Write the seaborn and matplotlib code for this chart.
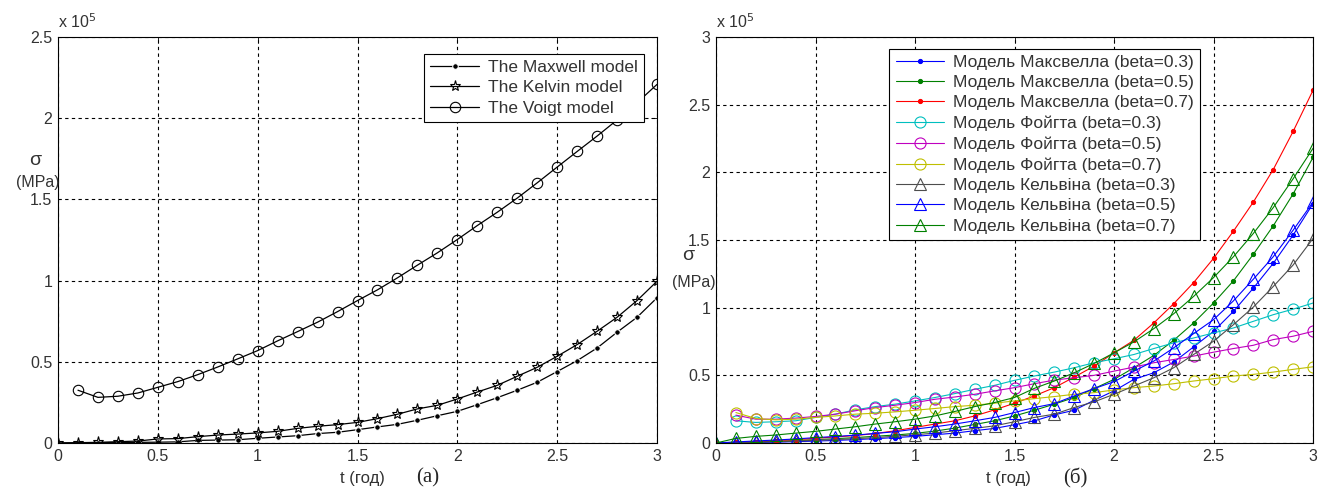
import numpy as np
import pandas as pd
import matplotlib
matplotlib.use("Agg")
import matplotlib.pyplot as plt
import seaborn as sns

# ---------------- data (stress in units of 1e5 MPa) ----------------
t = [round(0.1 * i, 1) for i in range(31)]
t_voigt = t[1:]

# panel (a)
maxwell_a = [0.0, 0.001, 0.002, 0.003, 0.004, 0.005, 0.007, 0.016, 0.018, 0.020, 0.029,
             0.037, 0.045, 0.058, 0.066, 0.082, 0.099, 0.115, 0.140, 0.168, 0.195,
             0.236, 0.279, 0.325, 0.374, 0.440, 0.507, 0.585, 0.682, 0.774, 0.894]
kelvin_a = [0.0, 0.002, 0.004, 0.008, 0.012, 0.025, 0.027, 0.039, 0.049, 0.055, 0.062,
            0.072, 0.090, 0.103, 0.113, 0.127, 0.150, 0.177, 0.210, 0.232, 0.271,
            0.314, 0.355, 0.411, 0.466, 0.534, 0.606, 0.688, 0.774, 0.877, 0.996]
voigt_a = [0.325, 0.281, 0.288, 0.308, 0.343, 0.378, 0.421, 0.468, 0.518, 0.569,
           0.629, 0.686, 0.744, 0.809, 0.877, 0.943, 1.017, 1.095, 1.171, 1.253,
           1.339, 1.421, 1.508, 1.602, 1.699, 1.795, 1.890, 1.989, 2.095, 2.208]

# panel (б)
maxwell_03 = [0.0, 0.002, 0.004, 0.006, 0.010, 0.014, 0.019, 0.025, 0.032, 0.040, 0.049,
              0.061, 0.073, 0.091, 0.108, 0.135, 0.164, 0.208, 0.242, 0.316, 0.385,
              0.470, 0.519, 0.598, 0.710, 0.825, 0.972, 1.144, 1.327, 1.536, 1.768]
maxwell_05 = [0.0, 0.004, 0.008, 0.012, 0.018, 0.025, 0.032, 0.040, 0.050, 0.059, 0.071,
              0.088, 0.110, 0.137, 0.164, 0.200, 0.242, 0.287, 0.336, 0.402, 0.470,
              0.556, 0.647, 0.759, 0.887, 1.034, 1.198, 1.394, 1.604, 1.840, 2.110]
maxwell_07 = [0.0, 0.005, 0.010, 0.018, 0.025, 0.035, 0.045, 0.055, 0.070, 0.090, 0.115,
              0.140, 0.164, 0.200, 0.245, 0.294, 0.348, 0.409, 0.487, 0.568, 0.666,
              0.759, 0.887, 1.029, 1.185, 1.364, 1.565, 1.780, 2.020, 2.302, 2.606]
voigt_03 = [0.164, 0.152, 0.157, 0.164, 0.189, 0.213, 0.245, 0.269, 0.287, 0.311,
            0.336, 0.365, 0.397, 0.426, 0.463, 0.495, 0.524, 0.556, 0.593, 0.622,
            0.654, 0.698, 0.740, 0.776, 0.813, 0.850, 0.899, 0.948, 0.989, 1.034]
voigt_05 = [0.206, 0.176, 0.176, 0.184, 0.196, 0.213, 0.238, 0.262, 0.279, 0.299,
            0.323, 0.340, 0.360, 0.385, 0.409, 0.438, 0.465, 0.482, 0.500, 0.531,
            0.561, 0.593, 0.617, 0.642, 0.671, 0.698, 0.722, 0.764, 0.789, 0.825]
voigt_07 = [0.225, 0.181, 0.171, 0.176, 0.189, 0.200, 0.213, 0.220, 0.230, 0.242,
            0.255, 0.269, 0.279, 0.294, 0.311, 0.328, 0.343, 0.360, 0.372, 0.392,
            0.409, 0.421, 0.438, 0.458, 0.475, 0.495, 0.507, 0.524, 0.544, 0.563]
kelvin_03 = [0.0, 0.003, 0.006, 0.010, 0.014, 0.020, 0.025, 0.032, 0.040, 0.050, 0.061,
             0.073, 0.091, 0.108, 0.127, 0.157, 0.189, 0.213, 0.262, 0.304, 0.360,
             0.421, 0.482, 0.556, 0.654, 0.752, 0.874, 1.004, 1.156, 1.315, 1.511]
kelvin_05 = [0.0, 0.008, 0.015, 0.022, 0.030, 0.040, 0.048, 0.058, 0.071, 0.083, 0.103,
             0.120, 0.140, 0.164, 0.189, 0.225, 0.262, 0.291, 0.348, 0.402, 0.453,
             0.531, 0.605, 0.703, 0.808, 0.911, 1.050, 1.210, 1.376, 1.572, 1.780]
kelvin_07 = [0.0, 0.034, 0.049, 0.059, 0.073, 0.086, 0.103, 0.120, 0.140, 0.157, 0.176,
             0.200, 0.233, 0.269, 0.299, 0.336, 0.404, 0.458, 0.519, 0.588, 0.666,
             0.747, 0.845, 0.955, 1.083, 1.222, 1.376, 1.548, 1.739, 1.952, 2.177]

labels_a = ["The Maxwell model", "The Kelvin model", "The Voigt model"]
labels_b = ["Модель Максвелла (beta=0.3)", "Модель Максвелла (beta=0.5)",
            "Модель Максвелла (beta=0.7)", "Модель Фойгта (beta=0.3)",
            "Модель Фойгта (beta=0.5)", "Модель Фойгта (beta=0.7)",
            "Модель Кельвіна (beta=0.3)", "Модель Кельвіна (beta=0.5)",
            "Модель Кельвіна (beta=0.7)"]
xticks = [0, 0.5, 1, 1.5, 2, 2.5, 3]
xtick_labels = ["0", "0.5", "1", "1.5", "2", "2.5", "3"]
yticks_a = [0, 0.5, 1, 1.5, 2, 2.5]
ytick_labels_a = ["0", "0.5", "1", "1.5", "2", "2.5"]
yticks_b = [0, 0.5, 1, 1.5, 2, 2.5, 3]
ytick_labels_b = ["0", "0.5", "1", "1.5", "2", "2.5", "3"]

# ---------------- styling ----------------
sns.set_theme(style="white")
plt.rcParams['font.family'] = ['Liberation Sans', 'DejaVu Sans']
plt.rcParams['font.size'] = 9

fig = plt.figure(figsize=(13.27, 4.91), dpi=100)
ax1 = fig.add_axes([58/1327, 48/491, 599/1327, 406/491])
ax2 = fig.add_axes([716/1327, 48/491, 597/1327, 406/491])

TXT = '#333333'


def style_axis(ax, yticks, ylabels, ymax):
    ax.set_xlim(0, 3)
    ax.set_ylim(0, ymax)
    ax.set_xticks(xticks)
    ax.set_xticklabels(xtick_labels)
    ax.set_yticks(yticks)
    ax.set_yticklabels(ylabels)
    ax.grid(True, color='black', linestyle=(0, (3, 3)), linewidth=0.8)
    for s in ax.spines.values():
        s.set_color('black')
        s.set_linewidth(0.8)
    ax.tick_params(direction='in', length=4, width=0.6, colors='black',
                   labelsize=11.5, labelcolor=TXT, top=True, right=True, pad=4)
    ax.set_xlabel("")
    ax.set_ylabel("")


lw = 0.9
sns.lineplot(x=t, y=maxwell_a, ax=ax1, color='black', marker='.', markersize=8,
             linewidth=lw, label=labels_a[0])
sns.lineplot(x=t, y=kelvin_a, ax=ax1, color='black', marker='*', markersize=8,
             markerfacecolor='none', markeredgecolor='black', markeredgewidth=0.8,
             linewidth=lw, label=labels_a[1])
sns.lineplot(x=t_voigt, y=voigt_a, ax=ax1, color='black', marker='o', markersize=7.5,
             markerfacecolor='none', markeredgecolor='black', markeredgewidth=0.8,
             linewidth=lw, label=labels_a[2])
style_axis(ax1, yticks_a, ytick_labels_a, 2.5)
leg1 = ax1.legend(loc='upper right', fontsize=12.5, frameon=True, fancybox=False,
                  edgecolor='black', framealpha=1, handlelength=2.8, handletextpad=0.5,
                  borderpad=0.35, labelspacing=0.3, bbox_to_anchor=(0.992, 0.98))
leg1.get_frame().set_linewidth(0.8)
for txt in leg1.get_texts():
    txt.set_color(TXT)

blue = (0, 0, 1)
green = (0, 0.5, 0)
red = (1, 0, 0)
cyan = (0, 0.75, 0.75)
magenta = (0.75, 0, 0.75)
yellow = (0.75, 0.75, 0)
gray = (0.3, 0.3, 0.3)

series_b = [
    (t, maxwell_03, blue, '.'), (t, maxwell_05, green, '.'), (t, maxwell_07, red, '.'),
    (t_voigt, voigt_03, cyan, 'o'), (t_voigt, voigt_05, magenta, 'o'),
    (t_voigt, voigt_07, yellow, 'o'),
    (t, kelvin_03, gray, '^'), (t, kelvin_05, blue, '^'), (t, kelvin_07, green, '^'),
]
for (xs, ys, c, m), lab in zip(series_b, labels_b):
    if m == '.':
        sns.lineplot(x=xs, y=ys, ax=ax2, color=c, marker='.', markersize=6,
                     markeredgecolor=c, linewidth=0.8, label=lab)
    else:
        sns.lineplot(x=xs, y=ys, ax=ax2, color=c, marker=m, markersize=8,
                     markerfacecolor='none', markeredgecolor=c, markeredgewidth=0.8,
                     linewidth=0.8, label=lab)
style_axis(ax2, yticks_b, ytick_labels_b, 3)
leg2 = ax2.legend(loc='upper left', fontsize=12.5, frameon=True, fancybox=False,
                  edgecolor='black', framealpha=1, handlelength=2.8, handletextpad=0.5,
                  borderpad=0.35, labelspacing=0.3, bbox_to_anchor=(0.276, 0.993))
leg2.get_frame().set_linewidth(0.8)
for txt in leg2.get_texts():
    txt.set_color(TXT)

# axis annotations (MATLAB-like)
for ax in (ax1, ax2):
    ax.text(0.0, 1.015, r"x 10$^{5}$", transform=ax.transAxes, fontsize=11.5,
            ha='left', va='bottom', color=TXT)

fig.text(35/1327, 1 - 160/491, "σ", fontsize=14, ha='center', va='center', color=TXT)
fig.text(38/1327, 1 - 182/491, "(MPa)", fontsize=11.5, ha='center', va='center', color=TXT)
fig.text(688/1327, 1 - 256/491, "σ", fontsize=14, ha='center', va='center', color=TXT)
fig.text(694/1327, 1 - 283/491, "(MPa)", fontsize=11.5, ha='center', va='center', color=TXT)

fig.text(362/1327, 1 - 478/491, "t (год)", fontsize=12, ha='center', va='center', color=TXT)
fig.text(428/1327, 1 - 478/491, "(а)", fontsize=15, ha='center', va='center',
         family=['Liberation Serif', 'DejaVu Serif'])
fig.text(1008/1327, 1 - 478/491, "t (год)", fontsize=12, ha='center', va='center', color=TXT)
fig.text(1075/1327, 1 - 478/491, "(б)", fontsize=15, ha='center', va='center',
         family=['Liberation Serif', 'DejaVu Serif'])

fig.savefig("out.png", dpi=100, facecolor='white')
